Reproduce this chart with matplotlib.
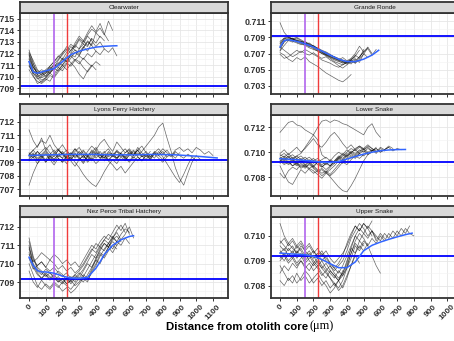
import numpy as np
import matplotlib
matplotlib.use('Agg')
import matplotlib.pyplot as plt

plt.rcParams['font.family'] = ['Liberation Sans', 'DejaVu Sans']

STEP = 25
SEAWATER = 0.70918
PURPLE_X = 150
RED_X = 225
xbreaks = list(range(0, 1200, 100))

# ---------------- Clearwater
cw_traces = [
    [.7123, .7112, .7101, .7097, .7099, .7103, .7100, .7106, .7110, .7114, .7119, .7117, .7124, .7128, .7126, .7133, .7129, .7135, .7131],
    [.7115, .7106, .7099, .7095, .7098, .7096, .7102, .7108, .7105, .7111, .7116, .7121, .7118, .7125, .7131, .7127, .7138, .7142, .7136, .7148, .7140],
    [.7110, .7103, .7100, .7102, .7104, .7108, .7106, .7110, .7115, .7113, .7119, .7123, .7121, .7126, .7122, .7129],
    [.7118, .7108, .7104, .7101, .7103, .7105, .7109, .7112, .7110, .7116, .7112, .7108, .7102, .7098, .7105, .7110, .7106],
    [.7121, .7114, .7106, .7103, .7106, .7109, .7113, .7117, .7121, .7124, .7120, .7127, .7133, .7130, .7136, .7141, .7138, .7134],
    [.7106, .7100, .7096, .7094, .7097, .7101, .7099, .7104, .7108, .7112, .7109, .7114, .7118, .7115, .7120, .7117, .7122, .7119, .7124, .7121, .7125, .7118],
    [.7113, .7105, .7102, .7104, .7100, .7106, .7111, .7115, .7120, .7126, .7122, .7129, .7135, .7131, .7127, .7133],
    [.7119, .7109, .7102, .7099, .7101, .7104, .7107, .7111, .7116, .7113, .7118, .7114, .7111, .7116, .7112, .7109, .7113, .7110],
    [.7109, .7103, .7098, .7100, .7103, .7107, .7110, .7108, .7113, .7118, .7123, .7127, .7124, .7131, .7138, .7144, .7139, .7146, .7137, .7131],
    [.7116, .7108, .7103, .7106, .7104, .7109, .7113, .7118, .7115, .7121, .7126, .7123, .7119, .7125, .7130, .7127, .7122],
    [.7112, .7101, .7094, .7096, .7099, .7103, .7107, .7105, .7110, .7106, .7111, .7115, .7113, .7108, .7104, .7109],
    [.7120, .7111, .7105, .7102, .7105, .7103, .7108, .7114, .7119, .7123, .7128, .7125, .7132, .7128, .7135, .7131, .7126, .7130, .7124],
]
cw_fit_x = [0, 25, 50, 100, 150, 200, 250, 300, 350, 400, 450, 500, 525]
cw_fit_y = [.7113, .7104, .7103, .7105, .7107, .7113, .7119, .7122, .7124, .71255, .71262, .71266, .71267]
cw_yticks = [.709, .710, .711, .712, .713, .714, .715]

# ---------------- Grande Ronde
gr_traces = [
    [.7074, .7085, .7089, .7088, .7086, .7085, .7083, .7080, .7078, .7076, .7073, .7070, .7068, .7066, .7063, .7061, .7060, .7059, .7061, .7066, .7072, .7078, .7070],
    [.7080, .7088, .7090, .7087, .7089, .7086, .7082, .7083, .7079, .7077, .7074, .7072, .7069, .7065, .7062, .7060, .7058, .7062, .7068, .7064, .7075],
    [.7082, .7087, .7086, .7088, .7084, .7082, .7080, .7081, .7077, .7074, .7071, .7069, .7066, .7063, .7061, .7058, .7060, .7057, .7063, .7059, .7070, .7065],
    [.7077, .7084, .7088, .7085, .7083, .7081, .7084, .7079, .7076, .7073, .7070, .7067, .7064, .7060, .7058, .7056, .7059, .7062, .7058, .7066, .7072, .7076, .7068, .7075],
    [.7085, .7089, .7087, .7089, .7086, .7083, .7080, .7077, .7075, .7073, .7070, .7068, .7066, .7064, .7062, .7065, .7061, .7064, .7070, .7079, .7072],
    [.7071, .7068, .7063, .7060, .7065, .7062, .7066, .7060, .7057, .7054, .7050, .7046, .7043, .7040, .7037, .7035, .7039, .7044],
    [.7078, .7074, .7070, .7066, .7069, .7073, .7070, .7068, .7071, .7067, .7064, .7066, .7062, .7059, .7055, .7052, .7056, .7060, .7064],
    [.7108, .7096, .7090, .7088, .7086, .7084, .7085, .7081, .7079, .7076, .7073, .7071, .7068, .7066, .7064, .7062, .7060, .7063, .7067, .7074],
    [.7073, .7080, .7086, .7084, .7087, .7085, .7082, .7078, .7080, .7076, .7072, .7068, .7065, .7062, .7060, .7059, .7057, .7061, .7058, .7063, .7069, .7077],
    [.7083, .7089, .7091, .7088, .7090, .7087, .7084, .7082, .7079, .7075, .7072, .7069, .7067, .7064, .7062, .7060, .7059, .7062, .7066],
    [.7069, .7064, .7066, .7070, .7074, .7071, .7075, .7072, .7069, .7066, .7062, .7060, .7058, .7055, .7053, .7056, .7059],
]
gr_fit_x = [0, 25, 50, 100, 150, 200, 250, 300, 350, 400, 450, 500, 550, 590]
gr_fit_y = [.7078, .7086, .7087, .7085, .7082, .7078, .7073, .7068, .7063, .7060, .7060, .7063, .7068, .7074]
gr_yticks = [.703, .705, .707, .709, .711]

# ---------------- Lyons Ferry Hatchery
lf_traces = [
    [.7096, .7093, .7098, .7094, .7097, .7092, .7095, .7099, .7096, .7093, .7097, .7094, .7098, .7095, .7092, .7096, .7099, .7095, .7093, .7097, .7094, .7098, .7096, .7093, .7097, .7095, .7099, .7094, .7096, .7092, .7097, .7095, .7098, .7094, .7096, .7093, .7097],
    [.7092, .7096, .7091, .7095, .7098, .7094, .7090, .7095, .7093, .7097, .7092, .7096, .7094, .7090, .7095, .7098, .7093, .7096, .7091, .7095, .7097, .7093, .7096, .7092, .7095, .7098, .7094, .7091, .7096, .7093, .7097, .7095, .7092, .7096, .7094, .7098, .7095, .7093, .7096, .7094],
    [.7114, .7106, .7101, .7108, .7099, .7103, .7097, .7100, .7096, .7099, .7095, .7098, .7101, .7096, .7094, .7099, .7096, .7093, .7097, .7100, .7095, .7098, .7094, .7097, .7099, .7095, .7101, .7097, .7094, .7098],
    [.7073, .7082, .7089, .7094, .7090, .7095, .7092, .7096, .7093, .7089, .7094, .7097, .7092, .7095, .7091, .7094, .7098, .7093, .7096, .7092, .7095, .7093, .7097, .7094, .7091, .7095],
    [.7095, .7099, .7102, .7106, .7104, .7110, .7103, .7099, .7096, .7092, .7094, .7090, .7086, .7081, .7077, .7074, .7072, .7077, .7083, .7088, .7092, .7089, .7094, .7091, .7096, .7093, .7097, .7094, .7096],
    [.7094, .7097, .7093, .7096, .7099, .7095, .7092, .7096, .7098, .7094, .7097, .7093, .7096, .7099, .7095, .7092, .7097, .7095, .7098, .7094, .7096, .7093, .7097, .7100, .7096, .7099, .7095, .7098, .7102, .7106, .7110, .7116, .7119, .7108, .7098, .7086, .7078, .7073, .7082, .7090, .7095, .7092],
    [.7097, .7094, .7098, .7095, .7092, .7096, .7099, .7094, .7097, .7093, .7096, .7100, .7095, .7098, .7094, .7097, .7101, .7096, .7093, .7098, .7095, .7099, .7096, .7094, .7098, .7095, .7099, .7102, .7097, .7094, .7098, .7096, .7100, .7097, .7095, .7099, .7101, .7098, .7100, .7097, .7101, .7099, .7096, .7098, .7095],
    [.7091, .7094, .7089, .7093, .7096, .7092, .7088, .7093, .7090, .7094, .7091, .7087, .7092, .7095, .7090, .7093, .7089, .7092, .7096, .7091, .7088, .7084, .7087, .7082, .7086, .7090, .7094, .7091, .7095, .7092, .7096, .7093, .7090, .7094],
    [.7096, .7099, .7095, .7098, .7101, .7097, .7094, .7099, .7103, .7098, .7095, .7100, .7097, .7093, .7098, .7102, .7099, .7104, .7107, .7102, .7098, .7105, .7101, .7097, .7100, .7096, .7099, .7095, .7098, .7094, .7097, .7100, .7096, .7099, .7095, .7097],
    [.7093, .7096, .7092, .7095, .7090, .7094, .7097, .7093, .7090, .7095, .7092, .7096, .7093, .7089, .7094, .7091, .7095, .7098, .7094, .7091, .7095, .7092, .7096, .7093, .7090, .7094, .7091, .7095, .7092, .7096, .7093, .7098, .7094, .7089, .7084, .7079, .7075, .7081, .7088, .7094, .7091],
]
lf_fit_x = [0, 125, 250, 375, 500, 625, 750, 875, 1000, 1125]
lf_fit_y = [.70950, .70955, .70958, .70958, .70955, .70955, .70958, .70955, .70945, .70932]
lf_yticks = [.707, .708, .709, .710, .711, .712]

# ---------------- Lower Snake
ls_traces = [
    [.7096, .7094, .7097, .7093, .7095, .7092, .7094, .7091, .7093, .7090, .7088, .7091, .7089, .7093, .7096, .7094, .7098, .7101, .7099, .7102, .7100, .7103, .7101, .7104],
    [.7092, .7095, .7091, .7094, .7090, .7093, .7089, .7092, .7088, .7085, .7087, .7084, .7088, .7091, .7095, .7098, .7096, .7100, .7098, .7101, .7103, .7100, .7102, .7099, .7103, .7101],
    [.7098, .7096, .7099, .7095, .7097, .7094, .7096, .7093, .7095, .7092, .7094, .7096, .7093, .7097, .7100, .7098, .7102, .7099, .7103, .7105, .7102, .7104, .7101, .7103, .7100, .7102, .7104, .7101, .7103, .7102],
    [.7094, .7091, .7093, .7089, .7092, .7088, .7090, .7087, .7089, .7086, .7083, .7085, .7082, .7086, .7090, .7094, .7092, .7097, .7095, .7099, .7097, .7100],
    [.7116, .7120, .7124, .7125, .7122, .7121, .7118, .7116, .7114, .7110, .7098, .7095],
    [.7095, .7093, .7096, .7094, .7097, .7099, .7104, .7109, .7114, .7120, .7125, .7126, .7124, .7126, .7125, .7123, .7122, .7120, .7118, .7116, .7114, .7120, .7123, .7116, .7112],
    [.7089, .7082, .7076, .7074, .7080, .7086, .7083, .7087, .7085, .7082, .7079, .7083, .7086, .7089, .7093, .7091, .7095, .7098, .7096, .7099],
    [.7093, .7090, .7092, .7089, .7091, .7087, .7089, .7086, .7083, .7085, .7081, .7084, .7080, .7076, .7072, .7069, .7068, .7073, .7079, .7086, .7093, .7098, .7101],
    [.7099, .7102, .7098, .7101, .7104, .7100, .7103, .7107, .7111, .7106, .7104, .7108, .7113, .7116, .7112, .7107, .7103, .7106, .7102, .7105, .7103, .7106, .7103, .7101],
    [.7095, .7097, .7094, .7096, .7093, .7095, .7092, .7094, .7091, .7093, .7090, .7092, .7089, .7092, .7095, .7093, .7097, .7099, .7097, .7100, .7102, .7099, .7101, .7103, .7100, .7102, .7104],
    [.7097, .7099, .7096, .7098, .7095, .7097, .7094, .7096, .7093, .7095, .7092, .7090, .7093, .7091, .7094, .7097, .7100, .7103, .7101, .7104, .7102, .7105, .7103, .7100, .7104, .7102, .7105, .7103],
    [.7091, .7093, .7090, .7092, .7089, .7091, .7088, .7090, .7087, .7084, .7086, .7083, .7081, .7084, .7088, .7092, .7090, .7094, .7097, .7095, .7098],
    [.7093, .7096, .7092, .7095, .7091, .7094, .7090, .7093, .7089, .7092, .7088, .7091, .7094, .7092, .7096, .7099, .7097, .7100, .7102, .7099, .7101, .7098, .7100],
    [.7083, .7079, .7085, .7088, .7086, .7090, .7087, .7091, .7088, .7092, .7089, .7086, .7089, .7093, .7097, .7095, .7099],
]
ls_fit_x = [0, 100, 200, 250, 300, 350, 400, 450, 500, 550, 600, 650, 700, 750]
ls_fit_y = [.70948, .70940, .70928, .70920, .70917, .70925, .70945, .70965, .70985, .71000, .71012, .71018, .71021, .71022]
ls_yticks = [.708, .710, .712]

# ---------------- Nez Perce Tribal Hatchery
np_traces = [
    [.7112, .7103, .7097, .7095, .7093, .7095, .7092, .7090, .7092, .7089, .7091, .7088, .7090, .7093, .7091, .7095, .7099, .7104, .7108, .7111, .7114, .7112, .7116, .7119, .7117],
    [.7108, .7100, .7096, .7094, .7097, .7095, .7093, .7096, .7094, .7091, .7093, .7090, .7094, .7097, .7101, .7105, .7103, .7108, .7111, .7109, .7113, .7115, .7112],
    [.7105, .7101, .7103, .7106, .7104, .7102, .7105, .7103, .7100, .7102, .7099, .7101, .7098, .7102, .7106, .7110, .7108, .7112, .7115, .7113, .7117, .7121, .7118, .7122, .7116],
    [.7100, .7094, .7088, .7086, .7089, .7087, .7090, .7088, .7085, .7087, .7084, .7086, .7089, .7092, .7090, .7096, .7100, .7105, .7103, .7107, .7110, .7108],
    [.7110, .7099, .7095, .7092, .7094, .7091, .7093, .7090, .7092, .7089, .7091, .7094, .7092, .7096, .7100, .7098, .7103, .7107, .7111, .7109, .7114, .7117, .7113, .7116, .7120, .7114],
    [.7103, .7097, .7099, .7101, .7098, .7102, .7100, .7097, .7099, .7096, .7098, .7095, .7097, .7100, .7104, .7108, .7106, .7110, .7113, .7111, .7115, .7112],
    [.7114, .7104, .7098, .7096, .7094, .7092, .7094, .7091, .7089, .7092, .7090, .7093, .7091, .7094, .7092, .7097, .7102, .7106, .7104, .7109, .7112, .7110, .7113],
    [.7096, .7090, .7087, .7091, .7088, .7086, .7089, .7087, .7090, .7088, .7086, .7089, .7092, .7090, .7094, .7098, .7102, .7100, .7105, .7109, .7106, .7110],
    [.7109, .7102, .7099, .7101, .7098, .7096, .7098, .7095, .7093, .7095, .7092, .7094, .7096, .7099, .7103, .7107, .7111, .7109, .7113, .7116, .7114, .7118, .7121, .7117],
    [.7106, .7098, .7094, .7092, .7095, .7093, .7091, .7093, .7090, .7092, .7089, .7092, .7095, .7093, .7097, .7101, .7105, .7109, .7107, .7111, .7108, .7112, .7110, .7114, .7111],
]
np_fit_x = [0, 25, 50, 75, 100, 150, 200, 250, 300, 350, 400, 425, 450, 500, 550, 600, 625]
np_fit_y = [.71035, .70990, .70962, .70955, .70955, .70948, .70932, .70922, .70920, .70925, .70975, .71010, .71050, .71100, .71130, .71148, .71152]
np_yticks = [.709, .710, .711, .712]

# ---------------- Upper Snake
us_traces = [
    [.7093, .7095, .7092, .7094, .7091, .7093, .7090, .7092, .7089, .7091, .7088, .7086, .7088, .7085, .7083, .7085, .7089, .7095, .7100, .7103, .7101, .7104, .7102, .7099],
    [.7096, .7094, .7097, .7095, .7093, .7096, .7094, .7092, .7094, .7091, .7093, .7090, .7088, .7086, .7088, .7090, .7094, .7099, .7102, .7105, .7103, .7100, .7102, .7098, .7101, .7099],
    [.7105, .7100, .7097, .7099, .7096, .7098, .7095, .7097, .7094, .7092, .7094, .7091, .7089, .7087, .7085, .7088, .7092, .7096, .7100, .7098, .7101, .7099, .7102, .7100, .7098, .7101, .7099, .7102, .7100, .7103, .7101, .7104],
    [.7088, .7085, .7082, .7084, .7081, .7083, .7086, .7084, .7081, .7083, .7080, .7082, .7079, .7081, .7078, .7080, .7084, .7088, .7092, .7089],
    [.7091, .7093, .7090, .7092, .7089, .7091, .7093, .7090, .7088, .7090, .7087, .7085, .7083, .7081, .7079, .7082, .7087, .7093, .7098, .7101, .7099, .7096, .7092, .7088, .7085],
    [.7098, .7096, .7094, .7096, .7093, .7095, .7092, .7094, .7091, .7093, .7090, .7092, .7089, .7087, .7089, .7092, .7097, .7101, .7104, .7102, .7105, .7103, .7100],
    [.7085, .7088, .7086, .7089, .7087, .7090, .7088, .7086, .7089, .7087, .7084, .7086, .7083, .7080, .7082, .7079, .7083, .7088, .7093, .7096, .7094, .7097],
    [.7094, .7092, .7095, .7093, .7096, .7094, .7091, .7093, .7090, .7088, .7090, .7087, .7085, .7083, .7086, .7084, .7088, .7093, .7097, .7095, .7098, .7096, .7099, .7097, .7100, .7098, .7101, .7099, .7102, .7100, .7103, .7101, .7100],
    [.7090, .7092, .7089, .7091, .7088, .7090, .7087, .7089, .7086, .7088, .7085, .7083, .7086, .7084, .7082, .7085, .7090, .7095, .7093, .7098, .7096],
    [.7097, .7099, .7096, .7098, .7095, .7097, .7094, .7096, .7093, .7095, .7092, .7094, .7091, .7089, .7091, .7093, .7096, .7100, .7104, .7102, .7105, .7103, .7106],
    [.7082, .7080, .7083, .7081, .7085, .7082, .7084, .7081, .7083, .7085, .7082, .7080, .7077, .7079, .7082, .7086],
    [.7092, .7090, .7093, .7091, .7094, .7092, .7089, .7091, .7092, .7089, .7087, .7089, .7086, .7084, .7082, .7084, .7087, .7091, .7096, .7094, .7097],
]
us_fit_x = [0, 50, 100, 150, 200, 250, 300, 350, 400, 450, 500, 550, 600, 650, 700, 750, 790]
us_fit_y = [.70931, .70928, .70926, .70924, .70918, .70905, .70888, .70872, .70872, .70895, .70940, .70962, .70975, .70986, .70996, .71005, .71011]
us_yticks = [.708, .709, .710]

# name, traces, fit x, fit y, y ticks, y limits, purple line?, column, row
panels = [
    ("Clearwater", cw_traces, cw_fit_x, cw_fit_y, cw_yticks, (0.70885, 0.71505), True, 0, 0),
    ("Grande Ronde", gr_traces, gr_fit_x, gr_fit_y, gr_yticks, (0.7029, 0.7112), True, 1, 0),
    ("Lyons Ferry Hatchery", lf_traces, lf_fit_x, lf_fit_y, lf_yticks, (0.70692, 0.71211), False, 0, 1),
    ("Lower Snake", ls_traces, ls_fit_x, ls_fit_y, ls_yticks, (0.70647, 0.71287), False, 1, 1),
    ("Nez Perce Tribal Hatchery", np_traces, np_fit_x, np_fit_y, np_yticks, (0.70813, 0.71254), True, 0, 2),
    ("Upper Snake", us_traces, us_fit_x, us_fit_y, us_yticks, (0.70752, 0.71076), True, 1, 2),
]

W, H = 454, 341
fig = plt.figure(figsize=(W / 100, H / 100), dpi=100)

col_x = [20, 271]
panel_w = 208
row_top = [13, 115, 217]
panel_h = 81
strip_h = 11
frame = '#333333'
txt = '#333333'

for name, traces, fx, fy, yt, ylim, purple, c, r in panels:
    x0 = col_x[c] / W
    y0 = 1 - (row_top[r] + panel_h) / H
    ax = fig.add_axes([x0, y0, panel_w / W, panel_h / H])
    ax.set_xlim(-54, 1190)
    ax.set_ylim(*ylim)
    ax.set_xticks(xbreaks)
    ax.set_xticks([b + 50 for b in xbreaks], minor=True)
    ax.set_yticks(yt)
    d = yt[1] - yt[0]
    ax.set_yticks([v + d / 2 for v in yt[:-1]] + [yt[0] - d / 2, yt[-1] + d / 2], minor=True)
    ax.grid(True, which='major', color='#E6E6E6', lw=0.6)
    ax.grid(True, which='minor', color='#F2F2F2', lw=0.4)
    ax.set_axisbelow(True)

    for t in traces:
        xs = np.arange(len(t)) * STEP
        ax.plot(xs, t, color='black', lw=0.5, alpha=0.6)
    if purple:
        ax.axvline(PURPLE_X, color='#B266EE', lw=1.2)
    ax.axvline(RED_X, color='#F03C3C', lw=1.0)
    ax.axhline(SEAWATER, color='#0000FF', lw=1.3)
    ax.plot(fx, fy, color='#3366FF', lw=1.1)

    ax.set_yticklabels([f"{v:.3f}" for v in yt], fontsize=6.4, fontweight='bold', color=txt)
    if r == 2:
        ax.set_xticklabels([str(b) for b in xbreaks], fontsize=6.0, fontweight='bold',
                           color=txt, rotation=45, ha='center', va='top')
    else:
        ax.set_xticklabels([])
        ax.tick_params(axis='x', length=0)
    ax.tick_params(which='minor', length=0)
    ax.tick_params(which='major', length=2.2, width=0.7, color=frame, pad=1.5)
    for s in ax.spines.values():
        s.set_color(frame)
        s.set_linewidth(1.3)

    sax = fig.add_axes([x0, 1 - row_top[r] / H, panel_w / W, strip_h / H])
    sax.set_facecolor('#D9D9D9')
    sax.set_xticks([])
    sax.set_yticks([])
    for s in sax.spines.values():
        s.set_color(frame)
        s.set_linewidth(1.3)
    sax.text(0.5, 0.5, name, ha='center', va='center', fontsize=4.6, color='#1A1A1A',
             transform=sax.transAxes)

fig.text(308 / W, 1 - 327 / H, "Distance from otolith core", ha='right', va='center',
         fontsize=8.2, fontweight='bold', color='black')
fig.text(310 / W, 1 - 326 / H, "(\u03bcm)", ha='left', va='center',
         fontsize=8.8, color='black', family=['Liberation Serif', 'DejaVu Serif'])

fig.savefig('out.png', dpi=100)
